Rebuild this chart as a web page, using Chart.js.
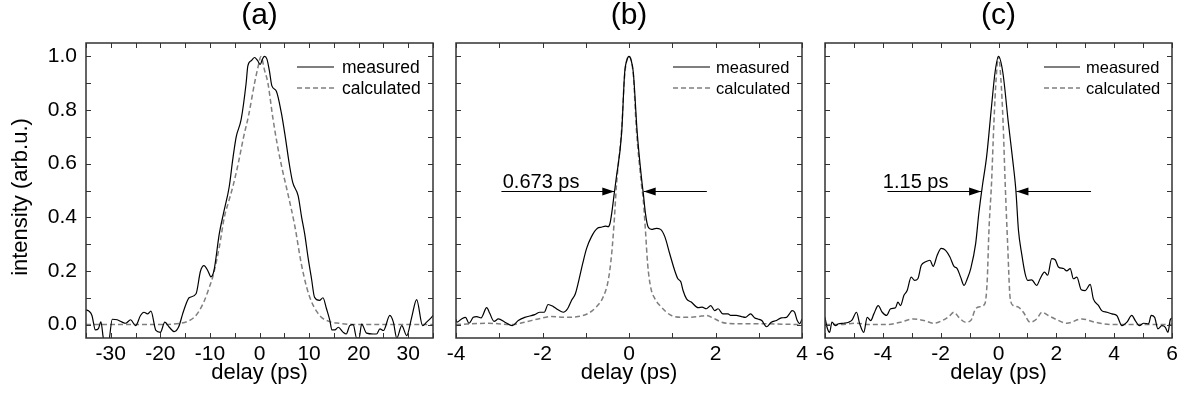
<!DOCTYPE html>
<html>
<head>
<meta charset="utf-8">
<script src="https://cdn.jsdelivr.net/npm/chart.js@4.4.1/dist/chart.umd.min.js"></script>
<style>
  html, body { margin: 0; padding: 0; background: #fff; }
  .panel { position: absolute; top: 0; height: 399px; }
</style>
</head>
<body>
<div class="panel" style="left:0;width:445px"><canvas id="chartA"></canvas></div>
<div class="panel" style="left:445px;width:370px"><canvas id="chartB"></canvas></div>
<div class="panel" style="left:815px;width:363px"><canvas id="chartC"></canvas></div>
<script>
// (a) measured / calculated autocorrelation, delay in ps
const measuredA = [[-35,0.055],[-34.4,0.05],[-33.8,0.034],[-33.1,-0.02],[-32.5,-0.015],[-32,0.01],[-31.4,-0.06],[-30.5,-0.07],[-29.7,0.02],[-28.7,0.018],[-27.8,0.01],[-27,0.005],[-26,0.018],[-25,-0.004],[-24,0.034],[-23.3,0.046],[-22.6,0.04],[-21.9,0.05],[-20.9,-0.022],[-20,-0.029],[-19.1,0.009],[-18.2,-0.01],[-17.2,-0.026],[-16.3,-0.008],[-15.5,0.04],[-14.8,0.078],[-14.2,0.1],[-12.8,0.115],[-11.9,0.2],[-11.2,0.22],[-10.4,0.2],[-9.8,0.178],[-9.2,0.2],[-8.1,0.34],[-7.2,0.42],[-6.1,0.515],[-5.4,0.615],[-4.7,0.7],[-3.7,0.765],[-2.7,0.9],[-2.35,0.965],[-1.6,0.985],[-1.0,0.996],[-0.4,0.985],[0.14,0.97],[0.6,0.99],[1.0,1.0],[1.5,0.99],[2.0,0.946],[2.5,0.89],[3.4,0.87],[4.4,0.79],[5.2,0.7],[6.0,0.6],[6.7,0.53],[7.8,0.48],[8.5,0.4],[9.1,0.34],[9.8,0.25],[10.5,0.17],[11.1,0.102],[12.1,0.09],[12.8,0.1],[13.5,0.06],[14.2,0.015],[14.6,-0.02],[15.2,-0.02],[15.9,-0.01],[16.9,-0.029],[17.5,-0.035],[18.2,-0.004],[18.9,0],[19.6,-0.05],[20.1,-0.05],[20.6,0.002],[21.6,-0.032],[22.9,-0.035],[23.6,-0.035],[24.3,-0.016],[25,-0.022],[26.3,0.034],[27,0.009],[27.7,-0.05],[28.7,-0.004],[29.7,-0.041],[30.7,0.027],[31.7,0.093],[32.9,-0.004],[33.7,0.009],[34.7,0.027],[35,0.034]];
const calculatedA = [[-35,0],[-20,0],[-16,0.005],[-14.5,0.012],[-13.2,0.027],[-12.2,0.05],[-11.1,0.09],[-10.3,0.13],[-9.4,0.18],[-8.1,0.29],[-7.1,0.4],[-6.2,0.46],[-5.3,0.52],[-4.3,0.6],[-3.2,0.7],[-2.2,0.78],[-1.0,0.9],[-0.3,0.96],[0.3,1.0],[1.0,0.95],[1.7,0.9],[2.7,0.77],[3.7,0.66],[4.7,0.57],[5.7,0.49],[7.1,0.37],[8.4,0.23],[9.5,0.14],[10.5,0.085],[11.5,0.05],[12.5,0.027],[14,0.012],[16,0.005],[20,0],[35,0]];

// (b)
const measuredB = [[-4.0,0.02],[-3.98,0.009],[-3.87,0.021],[-3.78,0.027],[-3.7,0.005],[-3.6,0.027],[-3.52,0.03],[-3.42,0.025],[-3.29,0.063],[-3.22,0.042],[-3.12,0.012],[-3.02,0.021],[-2.87,0.009],[-2.7,-0.004],[-2.56,0.015],[-2.41,0.027],[-2.18,0.037],[-2.06,0.046],[-1.96,0.046],[-1.87,0.075],[-1.75,0.067],[-1.64,0.055],[-1.52,0.046],[-1.42,0.059],[-1.33,0.09],[-1.24,0.115],[-1.16,0.165],[-1.07,0.228],[-0.98,0.284],[-0.87,0.327],[-0.73,0.359],[-0.64,0.363],[-0.54,0.367],[-0.48,0.365],[-0.44,0.377],[-0.40,0.415],[-0.34,0.49],[-0.3,0.54],[-0.17,0.715],[-0.1,0.94],[-0.05,0.985],[0,1.0],[0.05,0.985],[0.1,0.94],[0.19,0.715],[0.3,0.53],[0.33,0.49],[0.38,0.415],[0.44,0.365],[0.52,0.355],[0.63,0.359],[0.73,0.355],[0.83,0.327],[0.94,0.265],[1.06,0.2],[1.13,0.171],[1.2,0.159],[1.25,0.127],[1.33,0.096],[1.44,0.084],[1.6,0.063],[1.69,0.065],[1.79,0.059],[1.89,0.071],[1.98,0.052],[2.06,0.059],[2.17,0.04],[2.29,0.04],[2.35,0.034],[2.48,0.034],[2.6,0.03],[2.69,0.027],[2.81,0.04],[2.91,0.025],[2.98,0.021],[3.07,0.015],[3.18,-0.008],[3.29,0.009],[3.41,0.015],[3.52,0.025],[3.64,0.027],[3.71,0.04],[3.77,0.052],[3.83,0.046],[3.89,0.015],[3.95,0.003],[4.0,0.021]];
const calculatedB = [[-4,0],[-3.25,0.005],[-2.7,0.0],[-2.41,0.009],[-2.1,0.021],[-1.79,0.03],[-1.48,0.027],[-1.18,0.03],[-0.94,0.042],[-0.75,0.067],[-0.6,0.102],[-0.48,0.165],[-0.40,0.265],[-0.34,0.39],[-0.29,0.52],[-0.17,0.73],[-0.1,0.93],[0,1.0],[0.1,0.93],[0.17,0.73],[0.29,0.52],[0.33,0.465],[0.38,0.352],[0.43,0.228],[0.5,0.14],[0.6,0.096],[0.75,0.065],[0.98,0.034],[1.29,0.027],[1.6,0.03],[1.79,0.034],[1.94,0.025],[2.14,0.009],[2.44,0.003],[3.0,0.003],[4,0]];

// (c)
const measuredC = [[-6,0.027],[-5.93,-0.01],[-5.84,-0.029],[-5.76,0.009],[-5.64,-0.004],[-5.53,0.003],[-5.35,0.005],[-5.18,0.009],[-5.06,0.018],[-4.91,0.046],[-4.8,0.003],[-4.66,-0.029],[-4.54,0.027],[-4.42,0.015],[-4.31,0.04],[-4.16,0.071],[-4.02,0.046],[-3.87,0.034],[-3.73,0.059],[-3.56,0.063],[-3.48,0.084],[-3.39,0.071],[-3.27,0.109],[-3.16,0.127],[-3.02,0.177],[-2.9,0.165],[-2.79,0.171],[-2.67,0.221],[-2.52,0.234],[-2.37,0.24],[-2.26,0.217],[-2.12,0.259],[-1.98,0.284],[-1.83,0.277],[-1.68,0.252],[-1.54,0.217],[-1.43,0.209],[-1.31,0.177],[-1.19,0.146],[-1.08,0.171],[-0.96,0.209],[-0.79,0.302],[-0.68,0.415],[-0.56,0.515],[-0.41,0.627],[-0.24,0.815],[-0.12,0.94],[0,1.0],[0.15,0.94],[0.34,0.753],[0.49,0.615],[0.6,0.502],[0.69,0.352],[0.8,0.265],[0.92,0.19],[1.01,0.165],[1.15,0.167],[1.32,0.146],[1.44,0.171],[1.59,0.196],[1.7,0.184],[1.84,0.246],[1.96,0.242],[2.07,0.215],[2.25,0.209],[2.36,0.2],[2.48,0.209],[2.59,0.171],[2.71,0.177],[2.86,0.13],[3.0,0.127],[3.17,0.15],[3.28,0.096],[3.46,0.071],[3.57,0.052],[3.75,0.046],[3.92,0.04],[4.09,0.034],[4.27,-0.004],[4.44,0.009],[4.61,0.034],[4.73,0.015],[4.87,-0.004],[5.02,0.005],[5.19,0.003],[5.28,0.034],[5.4,0.027],[5.51,-0.016],[5.65,-0.004],[5.77,-0.01],[5.86,-0.029],[5.94,0.018],[6.0,0.025]];
const calculatedC = [[-6,0],[-5.5,0],[-4.89,0.005],[-4.5,0],[-3.85,0],[-3.39,0.009],[-2.93,0.021],[-2.58,0.015],[-2.23,0.005],[-1.95,0.015],[-1.72,0.03],[-1.54,0.046],[-1.37,0.027],[-1.14,0.009],[-0.96,0.015],[-0.79,0.059],[-0.62,0.067],[-0.47,0.078],[-0.39,0.165],[-0.33,0.352],[-0.24,0.53],[-0.16,0.75],[-0.08,0.92],[0,1.0],[0.08,0.92],[0.16,0.75],[0.23,0.53],[0.32,0.29],[0.4,0.102],[0.51,0.071],[0.69,0.065],[0.86,0.046],[1.09,0.009],[1.32,0.021],[1.5,0.046],[1.72,0.034],[2.02,0.018],[2.36,0.005],[2.88,0.021],[3.34,0.009],[3.92,0],[6,0]];

// tick positions
const yTicks = [0, 0.1, 0.2, 0.3, 0.4, 0.5, 0.6, 0.7, 0.8, 0.9, 1.0];
const xTicksA = [-35, -30, -25, -20, -15, -10, -5, 0, 5, 10, 15, 20, 25, 30, 35];
const xTicksB = [-4, -3, -2, -1, 0, 1, 2, 3, 4];
const xTicksC = [-6, -5, -4, -3, -2, -1, 0, 1, 2, 3, 4, 5, 6];

// FWHM markers: [label, y level, text x, left arrow from/to, right arrow from/to]
const fwhmB = ['0.673 ps', 0.5, -2.92, -2.95, -0.34, 1.8, 0.34];
const fwhmC = ['1.15 ps', 0.5, -4.0, -3.84, -0.6, 3.2, 0.62];

const seriesNames = ['measured', 'calculated'];
const FONT = '"Liberation Sans", Arial, sans-serif';
Chart.defaults.font.family = FONT;
Chart.defaults.color = '#000';

function arrow(ctx, x1, x2, y) {
  ctx.beginPath();
  ctx.moveTo(x1, y); ctx.lineTo(x2, y);
  ctx.stroke();
  const d = x2 > x1 ? 1 : -1;
  ctx.beginPath();
  ctx.moveTo(x2, y);
  ctx.lineTo(x2 - d * 12, y - 4);
  ctx.lineTo(x2 - d * 12, y + 4);
  ctx.closePath();
  ctx.fill();
}

const decorations = {
  id: 'decorations',
  afterDatasetsDraw(chart, args, opts) {
    const { ctx, chartArea: a, scales: { x, y } } = chart;
    ctx.save();
    // inward ticks on all four sides
    ctx.strokeStyle = '#333';
    ctx.lineWidth = 1;
    ctx.beginPath();
    x.ticks.forEach(t => {
      const px = Math.round(x.getPixelForValue(t.value)) + 0.5;
      ctx.moveTo(px, a.bottom); ctx.lineTo(px, a.bottom - 5);
      ctx.moveTo(px, a.top); ctx.lineTo(px, a.top + 5);
    });
    y.ticks.forEach(t => {
      const py = Math.round(y.getPixelForValue(t.value)) + 0.5;
      ctx.moveTo(a.left, py); ctx.lineTo(a.left + 5, py);
      ctx.moveTo(a.right, py); ctx.lineTo(a.right - 5, py);
    });
    ctx.stroke();
    ctx.lineWidth = 1.5;
    ctx.strokeRect(a.left, a.top, a.right - a.left, a.bottom - a.top);

    // panel title
    ctx.fillStyle = '#000';
    ctx.font = '30px ' + FONT;
    ctx.textAlign = 'center';
    ctx.textBaseline = 'middle';
    ctx.fillText(opts.title, (a.left + a.right) / 2, 16);

    // y axis title
    if (opts.yTitle) {
      ctx.save();
      ctx.translate(21, 197);
      ctx.rotate(-Math.PI / 2);
      ctx.font = '22px ' + FONT;
      ctx.fillText(opts.yTitle, 0, 0);
      ctx.restore();
    }

    // legend
    const [l0, l1, lt] = opts.legendX;
    ctx.font = opts.legendSize + 'px ' + FONT;
    ctx.textAlign = 'left';
    chart.data.datasets.forEach((ds, i) => {
      const ly = a.top + 24 + i * 21;
      ctx.strokeStyle = ds.borderColor;
      ctx.lineWidth = ds.borderWidth;
      ctx.setLineDash(ds.borderDash || []);
      ctx.beginPath();
      ctx.moveTo(a.right - l0, ly); ctx.lineTo(a.right - l1, ly);
      ctx.stroke();
      ctx.setLineDash([]);
      ctx.fillText(ds.label, a.right - lt, ly + 1);
    });

    // FWHM arrows
    if (opts.fwhm) {
      const [label, level, tx, lFrom, lTo, rFrom, rTo] = opts.fwhm;
      const py = Math.round(y.getPixelForValue(level)) + 0.5;
      ctx.strokeStyle = '#000';
      ctx.fillStyle = '#000';
      ctx.lineWidth = 1;
      arrow(ctx, x.getPixelForValue(lFrom), x.getPixelForValue(lTo), py);
      arrow(ctx, x.getPixelForValue(rFrom), x.getPixelForValue(rTo), py);
      ctx.font = '20px ' + FONT;
      ctx.textAlign = 'left';
      ctx.textBaseline = 'alphabetic';
      ctx.fillText(label, x.getPixelForValue(tx), py - 4);
    }
    ctx.restore();
  }
};

function makeChart(id, measured, calculated, o) {
  const toPts = arr => arr.map(p => ({ x: p[0], y: p[1] }));
  return new Chart(document.getElementById(id), {
    type: 'line',
    data: {
      datasets: [
        { label: seriesNames[0], data: toPts(measured), borderColor: '#000', borderWidth: 1.2,
          pointRadius: 0, cubicInterpolationMode: 'monotone' },
        { label: seriesNames[1], data: toPts(calculated), borderColor: '#7f7f7f', borderWidth: 1.5,
          borderDash: [5, 3], pointRadius: 0, cubicInterpolationMode: 'monotone' }
      ]
    },
    options: {
      responsive: true,
      maintainAspectRatio: false,
      animation: false,
      layout: { padding: { top: 43, right: o.padRight, left: 0, bottom: 0 } },
      plugins: {
        legend: { display: false },
        tooltip: { enabled: false },
        decorations: { title: o.title, yTitle: o.yTitle, legendX: o.legendX,
                       legendSize: o.legendSize, fwhm: o.fwhm }
      },
      scales: {
        x: {
          type: 'linear', min: o.xMin, max: o.xMax,
          grid: { display: false, drawTicks: false },
          border: { display: false },
          afterBuildTicks: s => { s.ticks = o.xTicks.map(v => ({ value: v })); },
          ticks: {
            autoSkip: false, maxRotation: 0, padding: 4,
            font: { size: 21 },
            callback: v => (Math.abs(v % o.xLabelEvery) < 1e-9 ? String(v) : '')
          },
          title: { display: true, text: 'delay (ps)', font: { size: 22 }, padding: { top: 0, bottom: 13 } },
          afterFit: s => { s.height = 61; s.paddingLeft = 0; s.paddingRight = 0; }
        },
        y: {
          min: -0.05, max: 1.05,
          grid: { display: false, drawTicks: false },
          border: { display: false },
          afterBuildTicks: s => { s.ticks = yTicks.map(v => ({ value: v })); },
          ticks: {
            display: !!o.yTitle, autoSkip: false, padding: 9,
            font: { size: 21 },
            callback: v => (Math.abs(v * 5 - Math.round(v * 5)) < 1e-6 ? v.toFixed(1) : '')
          },
          afterFit: s => { s.width = o.yWidth; s.paddingTop = 0; s.paddingBottom = 0; }
        }
      }
    },
    plugins: [decorations]
  });
}

makeChart('chartA', measuredA, calculatedA, {
  title: '(a)', yTitle: 'intensity (arb.u.)', xMin: -35, xMax: 35, xTicks: xTicksA, xLabelEvery: 10,
  yWidth: 86, padRight: 12, legendX: [136, 99, 91], legendSize: 17.5, fwhm: null
});
makeChart('chartB', measuredB, calculatedB, {
  title: '(b)', yTitle: null, xMin: -4, xMax: 4, xTicks: xTicksB, xLabelEvery: 2,
  yWidth: 11, padRight: 13, legendX: [129, 92, 86], legendSize: 16.5, fwhm: fwhmB
});
makeChart('chartC', measuredC, calculatedC, {
  title: '(c)', yTitle: null, xMin: -6, xMax: 6, xTicks: xTicksC, xLabelEvery: 2,
  yWidth: 10, padRight: 6, legendX: [128, 92, 86], legendSize: 16.5, fwhm: fwhmC
});
</script>
</body>
</html>
